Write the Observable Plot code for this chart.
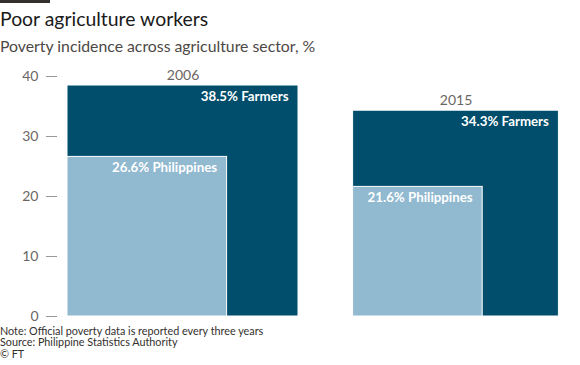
<!DOCTYPE html>
<html>
<head>
<meta charset="utf-8">
<script src="https://cdn.jsdelivr.net/npm/d3@7"></script>
<script src="https://cdn.jsdelivr.net/npm/@observablehq/plot@0.6"></script>
<style>
  html, body { margin: 0; padding: 0; background: #ffffff; }
  body { width: 580px; height: 365px; position: relative; overflow: hidden; font-family: Lato, sans-serif; }
  #rule { position: absolute; left: 0; top: 0; width: 50px; height: 3px; background: #33302e; }
  #title { position: absolute; left: 0; top: 8.5px; font-size: 19.4px; line-height: 20px; color: #1a1a1a; white-space: nowrap; }
  #subtitle { position: absolute; left: 0; top: 36.5px; font-size: 15.8px; line-height: 18px; color: #4d4845; white-space: nowrap; }
  #chart { position: absolute; left: 0; top: 60px; }
  #notes { position: absolute; left: 0; top: 324.5px; font-size: 10.8px; line-height: 11.8px; color: #33302e; white-space: nowrap; }
</style>
</head>
<body>
<div id="rule"></div>
<div id="title">Poor agriculture workers</div>
<div id="subtitle">Poverty incidence across agriculture sector, %</div>
<div id="chart"></div>
<div id="notes">Note: Official poverty data is reported every three years<br>Source: Philippine Statistics Authority<br>© FT</div>
<script>
const years = ["2006", "2015"];
const farmers = [38.5, 34.3];
const philippines = [26.6, 21.6];
const yTicks = [0, 10, 20, 30, 40];

const dark = "#004e6b";
const light = "#91b9cf";
const gap = 9.1;      // horizontal gap between the two groups, in value units
const unitPx = 6;     // pixels per percentage point (same on both axes)
const x0 = 67;        // left edge of the first square

const rows = years.map((year, i) => ({
  year,
  farmers: farmers[i],
  philippines: philippines[i],
  offset: i === 0 ? 0 : farmers[0] + gap
}));
const total = rows[1].offset + rows[1].farmers;

const chart = Plot.plot({
  width: 580,
  height: 262,
  marginLeft: 57,
  marginRight: 0,
  marginTop: 0,
  marginBottom: 0,
  style: { fontFamily: "Lato, sans-serif", background: "transparent", overflow: "visible" },
  x: { domain: [0, total], range: [x0, x0 + total * unitPx], axis: null },
  y: { domain: [0, 40], range: [256, 16] },
  marks: [
    Plot.axisY(yTicks, {
      tickSize: 11, tickPadding: 8, fontSize: 14,
      stroke: "#999999", fill: "#6b6663", label: null
    }),
    Plot.rect(rows, {
      x1: "offset", x2: d => d.offset + d.farmers,
      y1: 0, y2: "farmers",
      fill: dark, stroke: "white", strokeWidth: 1
    }),
    Plot.rect(rows, {
      x1: "offset", x2: d => d.offset + d.philippines,
      y1: 0, y2: "philippines",
      fill: light, stroke: "white", strokeWidth: 1
    }),
    Plot.text(rows, {
      x: d => d.offset + d.farmers, y: "farmers",
      text: d => `${d.farmers}% Farmers`,
      textAnchor: "end", lineAnchor: "top", dx: -10, dy: 6,
      fill: "white", fontSize: 13.3, fontWeight: "bold"
    }),
    Plot.text(rows, {
      x: d => d.offset + d.philippines, y: "philippines",
      text: d => `${d.philippines}% Philippines`,
      textAnchor: "end", lineAnchor: "top", dx: -10, dy: 6,
      fill: "white", fontSize: 13.3, fontWeight: "bold"
    }),
    Plot.text(rows, {
      x: d => d.offset + d.farmers / 2, y: "farmers",
      text: "year",
      lineAnchor: "bottom", dy: -6,
      fill: "#6b6663", fontSize: 14
    })
  ]
});
document.getElementById("chart").appendChild(chart);
</script>
</body>
</html>
